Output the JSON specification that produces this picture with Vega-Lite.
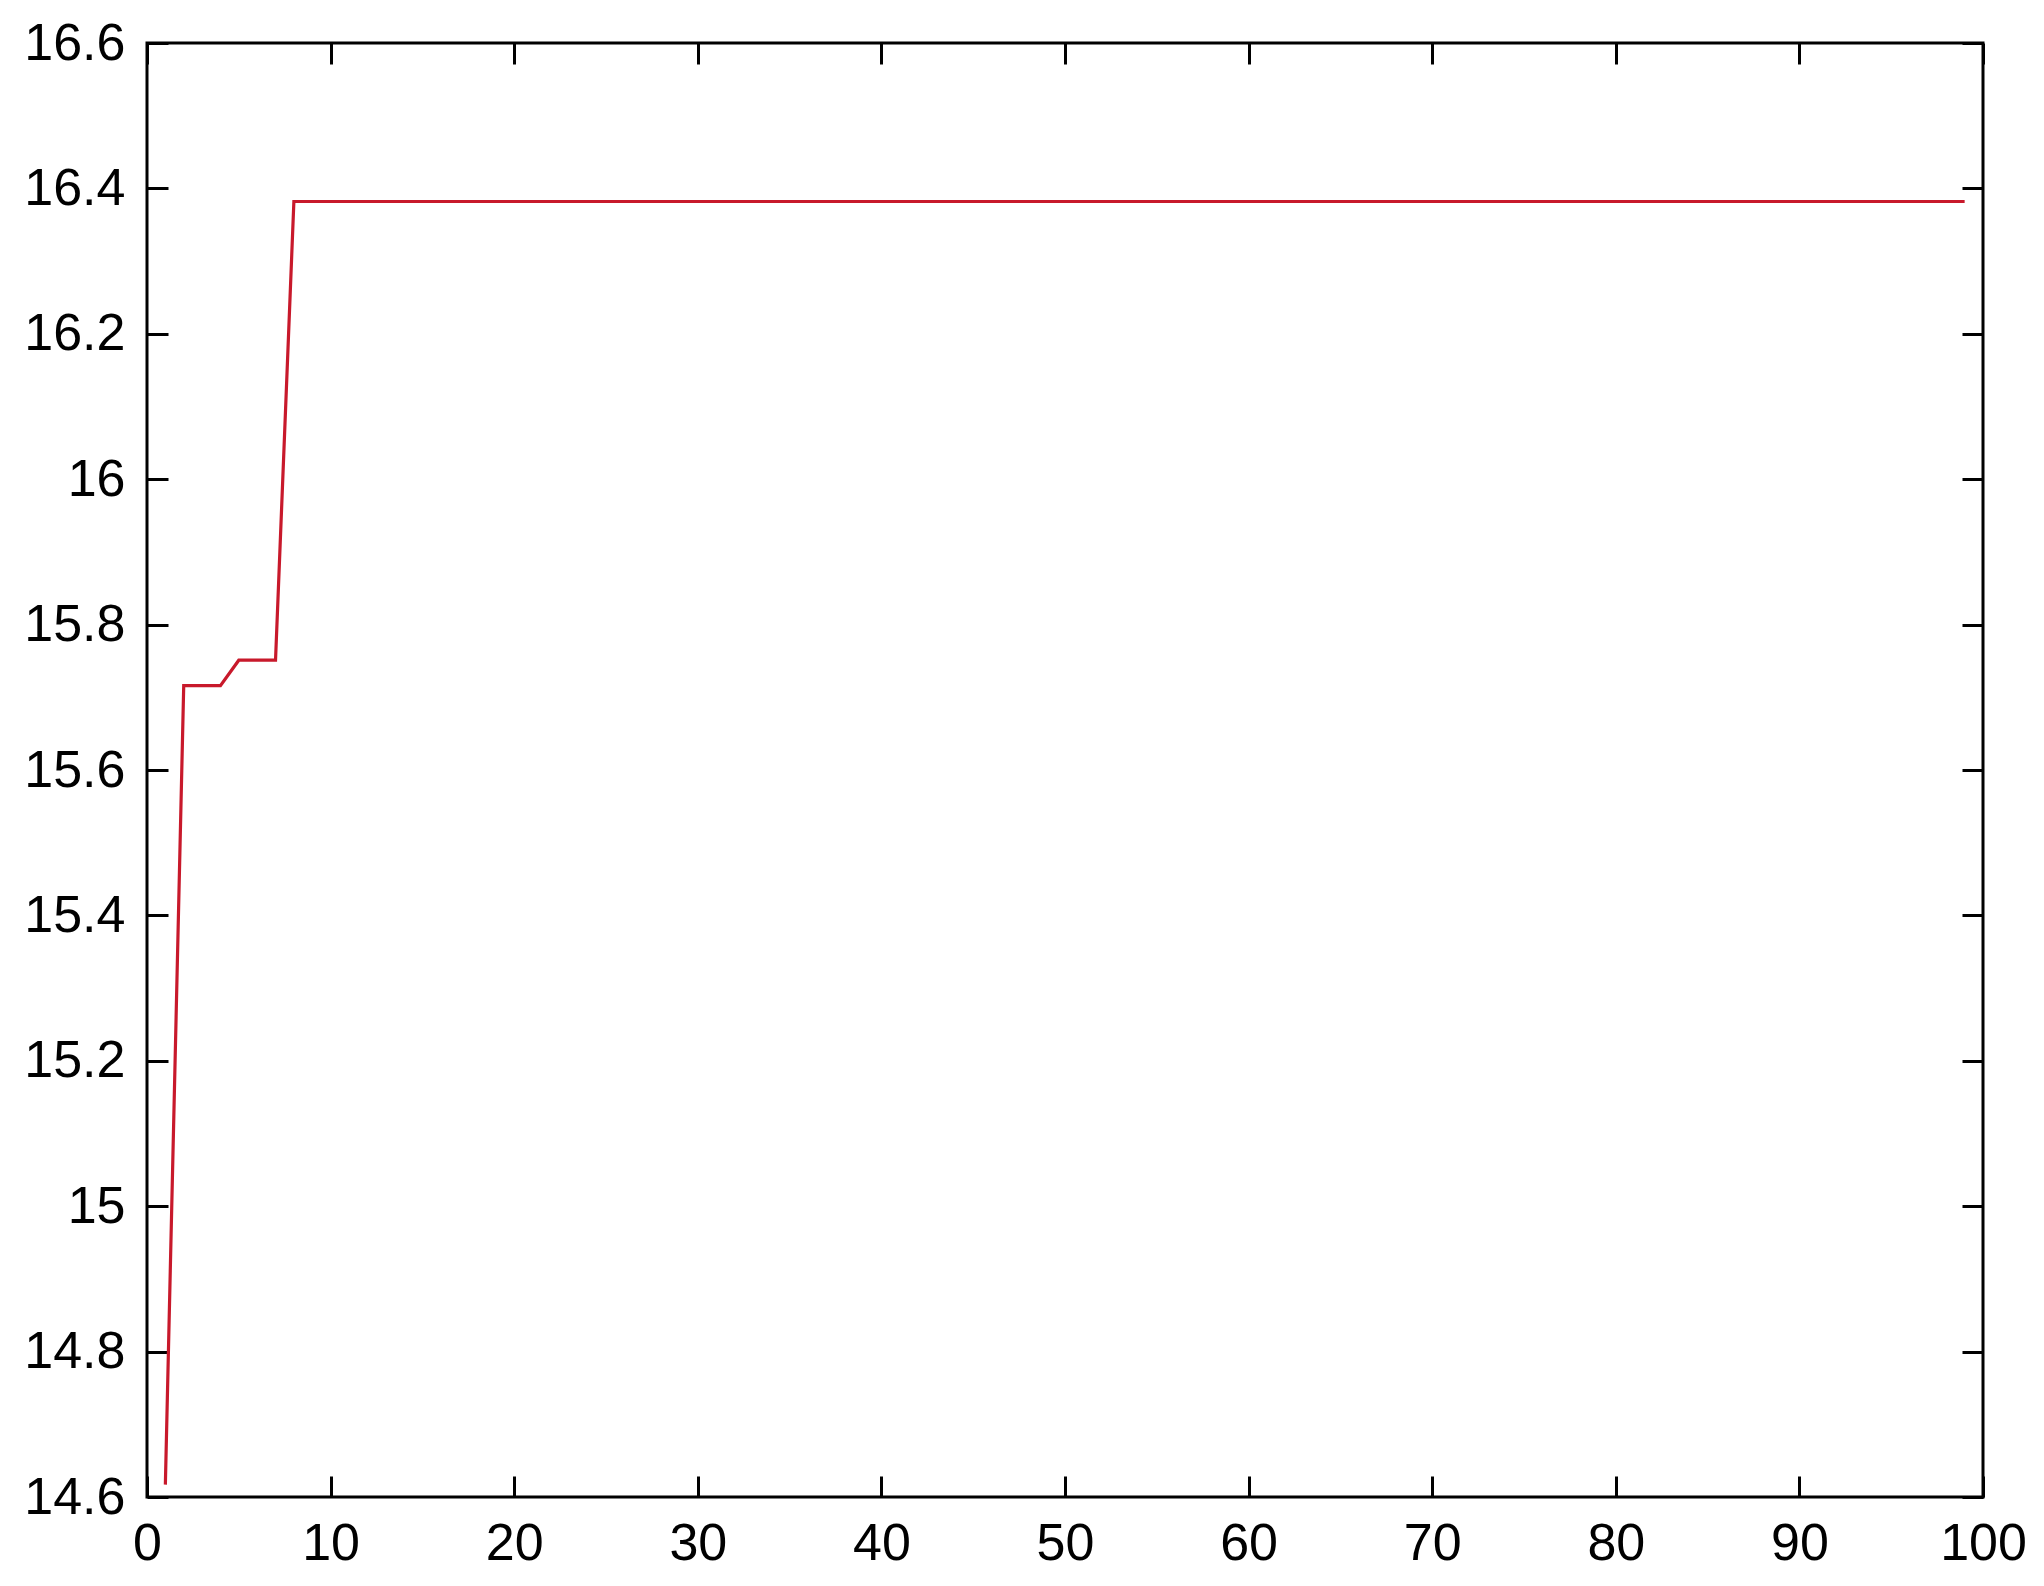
{
  "$schema": "https://vega.github.io/schema/vega-lite/v6.json",
  "width": 1836,
  "height": 1454,
  "autosize": {"type": "none"},
  "padding": {"left": 147, "top": 43, "right": 61, "bottom": 89},
  "background": "white",
  "config": {
    "view": {"stroke": "black", "strokeWidth": 3},
    "axis": {
      "domain": false,
      "grid": false,
      "ticks": true,
      "tickColor": "black",
      "tickWidth": 3,
      "tickSize": -21,
      "labelFont": "Liberation Sans",
      "labelFontSize": 52,
      "labelColor": "black",
      "title": null
    }
  },
  "data": {
    "values": [
      {"gen": 1, "fit": 14.617},
      {"gen": 2, "fit": 15.716},
      {"gen": 3, "fit": 15.716},
      {"gen": 4, "fit": 15.716},
      {"gen": 5, "fit": 15.751},
      {"gen": 6, "fit": 15.751},
      {"gen": 7, "fit": 15.751},
      {"gen": 8, "fit": 16.382},
      {"gen": 9, "fit": 16.382},
      {"gen": 10, "fit": 16.382},
      {"gen": 11, "fit": 16.382},
      {"gen": 12, "fit": 16.382},
      {"gen": 13, "fit": 16.382},
      {"gen": 14, "fit": 16.382},
      {"gen": 15, "fit": 16.382},
      {"gen": 16, "fit": 16.382},
      {"gen": 17, "fit": 16.382},
      {"gen": 18, "fit": 16.382},
      {"gen": 19, "fit": 16.382},
      {"gen": 20, "fit": 16.382},
      {"gen": 21, "fit": 16.382},
      {"gen": 22, "fit": 16.382},
      {"gen": 23, "fit": 16.382},
      {"gen": 24, "fit": 16.382},
      {"gen": 25, "fit": 16.382},
      {"gen": 26, "fit": 16.382},
      {"gen": 27, "fit": 16.382},
      {"gen": 28, "fit": 16.382},
      {"gen": 29, "fit": 16.382},
      {"gen": 30, "fit": 16.382},
      {"gen": 31, "fit": 16.382},
      {"gen": 32, "fit": 16.382},
      {"gen": 33, "fit": 16.382},
      {"gen": 34, "fit": 16.382},
      {"gen": 35, "fit": 16.382},
      {"gen": 36, "fit": 16.382},
      {"gen": 37, "fit": 16.382},
      {"gen": 38, "fit": 16.382},
      {"gen": 39, "fit": 16.382},
      {"gen": 40, "fit": 16.382},
      {"gen": 41, "fit": 16.382},
      {"gen": 42, "fit": 16.382},
      {"gen": 43, "fit": 16.382},
      {"gen": 44, "fit": 16.382},
      {"gen": 45, "fit": 16.382},
      {"gen": 46, "fit": 16.382},
      {"gen": 47, "fit": 16.382},
      {"gen": 48, "fit": 16.382},
      {"gen": 49, "fit": 16.382},
      {"gen": 50, "fit": 16.382},
      {"gen": 51, "fit": 16.382},
      {"gen": 52, "fit": 16.382},
      {"gen": 53, "fit": 16.382},
      {"gen": 54, "fit": 16.382},
      {"gen": 55, "fit": 16.382},
      {"gen": 56, "fit": 16.382},
      {"gen": 57, "fit": 16.382},
      {"gen": 58, "fit": 16.382},
      {"gen": 59, "fit": 16.382},
      {"gen": 60, "fit": 16.382},
      {"gen": 61, "fit": 16.382},
      {"gen": 62, "fit": 16.382},
      {"gen": 63, "fit": 16.382},
      {"gen": 64, "fit": 16.382},
      {"gen": 65, "fit": 16.382},
      {"gen": 66, "fit": 16.382},
      {"gen": 67, "fit": 16.382},
      {"gen": 68, "fit": 16.382},
      {"gen": 69, "fit": 16.382},
      {"gen": 70, "fit": 16.382},
      {"gen": 71, "fit": 16.382},
      {"gen": 72, "fit": 16.382},
      {"gen": 73, "fit": 16.382},
      {"gen": 74, "fit": 16.382},
      {"gen": 75, "fit": 16.382},
      {"gen": 76, "fit": 16.382},
      {"gen": 77, "fit": 16.382},
      {"gen": 78, "fit": 16.382},
      {"gen": 79, "fit": 16.382},
      {"gen": 80, "fit": 16.382},
      {"gen": 81, "fit": 16.382},
      {"gen": 82, "fit": 16.382},
      {"gen": 83, "fit": 16.382},
      {"gen": 84, "fit": 16.382},
      {"gen": 85, "fit": 16.382},
      {"gen": 86, "fit": 16.382},
      {"gen": 87, "fit": 16.382},
      {"gen": 88, "fit": 16.382},
      {"gen": 89, "fit": 16.382},
      {"gen": 90, "fit": 16.382},
      {"gen": 91, "fit": 16.382},
      {"gen": 92, "fit": 16.382},
      {"gen": 93, "fit": 16.382},
      {"gen": 94, "fit": 16.382},
      {"gen": 95, "fit": 16.382},
      {"gen": 96, "fit": 16.382},
      {"gen": 97, "fit": 16.382},
      {"gen": 98, "fit": 16.382},
      {"gen": 99, "fit": 16.382}
    ]
  },
  "layer": [
    {
      "mark": {"type": "line", "color": "#c8192b", "strokeWidth": 3.2, "interpolate": "linear"},
      "encoding": {
        "x": {
          "field": "gen", "type": "quantitative",
          "scale": {"domain": [0, 100], "nice": false, "zero": false},
          "axis": {"orient": "bottom", "values": [0,10,20,30,40,50,60,70,80,90,100], "labelPadding": 42, "labelFlush": false, "labelOverlap": false}
        },
        "y": {
          "field": "fit", "type": "quantitative",
          "scale": {"domain": [14.6, 16.6], "nice": false, "zero": false},
          "axis": {"orient": "left", "values": [14.6,14.8,15,15.2,15.4,15.6,15.8,16,16.2,16.4,16.6], "format": "~g", "labelPadding": 43, "labelFlush": false, "labelOverlap": false}
        }
      }
    },
    {
      "mark": {"type": "line", "strokeOpacity": 0},
      "encoding": {
        "x": {
          "field": "gen", "type": "quantitative",
          "scale": {"domain": [0, 100], "nice": false, "zero": false},
          "axis": {"orient": "top", "values": [0,10,20,30,40,50,60,70,80,90,100], "labels": false}
        },
        "y": {
          "field": "fit", "type": "quantitative",
          "scale": {"domain": [14.6, 16.6], "nice": false, "zero": false},
          "axis": {"orient": "right", "values": [14.6,14.8,15,15.2,15.4,15.6,15.8,16,16.2,16.4,16.6], "labels": false}
        }
      }
    }
  ],
  "resolve": {"axis": {"x": "independent", "y": "independent"}}
}
